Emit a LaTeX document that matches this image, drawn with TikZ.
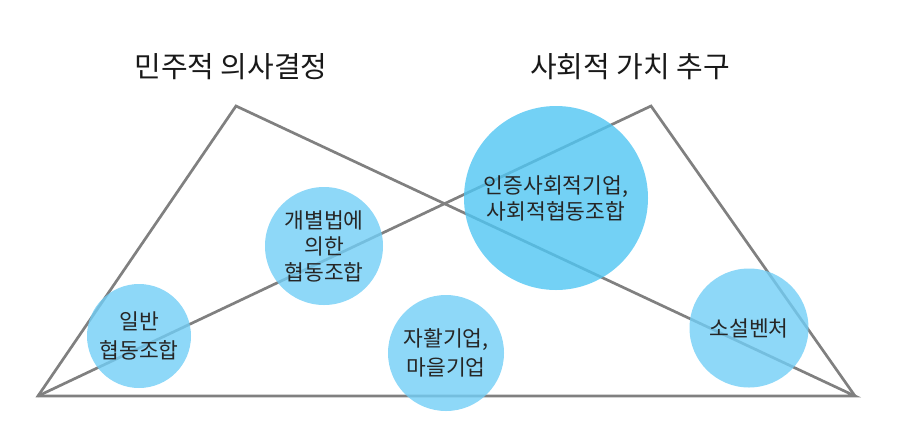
\documentclass[tikz,border=0pt]{standalone}
\usepackage{fontspec}
\setmainfont{Noto Sans CJK KR}
\usetikzlibrary{positioning}
\definecolor{bubbleblue}{RGB}{114,206,246}
\definecolor{bigblue}{RGB}{80,198,243}
\definecolor{edgegray}{RGB}{128,128,128}
\tikzset{
    %Define style for bubbles
    bubble/.style={
           circle,
           fill=bubbleblue, fill opacity=0.8, text opacity=1,
           inner sep=0pt,
           align=center,
           font=\fontsize{21.5}{26}\selectfont,
           text=black!85},
    bigbubble/.style={
           bubble,
           fill=bigblue},
    %Define style for titles
    title/.style={
           font=\fontsize{29}{34}\selectfont,
           text=black!90},
    %Define style for triangle sides
    side/.style={
           draw=edgegray,
           line width=2.7pt}
}
\begin{document}
\begin{tikzpicture}[x=1pt,y=-1pt]
\useasboundingbox (0,0) rectangle (899,437);

 %corners
\coordinate (bl) at (38,396);
\coordinate (br) at (855,396);
\coordinate (dem) at (236,106);
\coordinate (soc) at (651,106);

 %triangles
\draw[side] (bl) -- (dem) -- (br) -- cycle;
\draw[side] (bl) -- (soc) -- (br);

 %titles
\node[title] (demtitle) at (231,67) {민주적 의사결정};
\node[title] (soctitle) at (630,67) {사회적 가치 추구};

 %bubbles
\node[bubble, minimum size=104pt] (general) at (139,336) {일반\\[3pt]협동조합};
\node[bubble, minimum size=118pt] (special) at (324,246) {개별법에\\의한\\협동조합};
\node[bigbubble, minimum size=184pt] (certified) at (556,198) {인증사회적기업,\\사회적협동조합};
\node[bubble, minimum size=116pt] (village) at (446,353) {자활기업,\\[3pt]마을기업};
\node[bubble, minimum size=119pt] (venture) at (749,328) {소설벤처};

\end{tikzpicture}
\end{document}
